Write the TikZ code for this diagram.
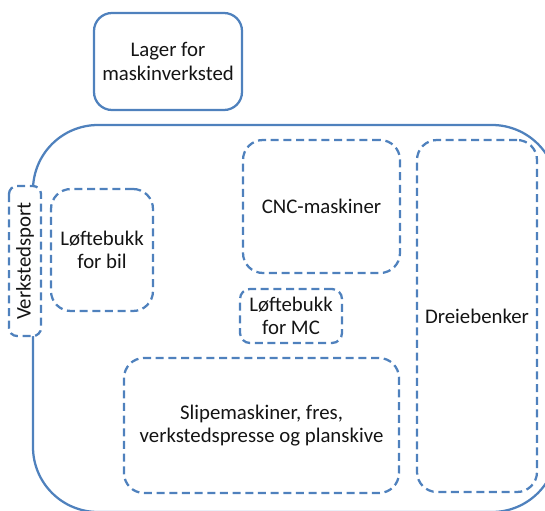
\documentclass[tikz,border=0pt]{standalone}
\usepackage{fontspec}
\setmainfont{Carlito}
\definecolor{shapeblue}{RGB}{79,129,189}
\definecolor{txt}{RGB}{20,20,20}
\begin{document}
\begin{tikzpicture}[x=0.75pt,y=-0.75pt,
  area/.style={draw=shapeblue, line width=1.7pt, rounded corners=15pt,
    align=center, inner sep=0pt, text=txt,
    font=\fontsize{15.6pt}{17.5pt}\selectfont},
  dashedarea/.style={area, dash pattern=on 6pt off 3.5pt},
  wall/.style={draw=shapeblue, line width=1.7pt, rounded corners=48.75pt}]
\useasboundingbox (0,0) rectangle (545,510);
\clip (0,0) rectangle (545,510);
% outer walls of the workshop
\draw[wall] (33,125) rectangle (557,512);
% storage
\node[area, rounded corners=13.5pt, minimum width=111pt, minimum height=72.75pt]
  (lager) at (168,61.5) {Lager for\\maskinverksted};
% door
\node[dashedarea, fill=white, rounded corners=6pt, rotate=90,
  minimum width=112.5pt, minimum height=24pt]
  (port) at (25,261) {Verkstedsport};
% areas
\node[dashedarea, minimum width=76.5pt, minimum height=91.5pt]
  (bil) at (102,250) {Løftebukk\\for bil};
\node[dashedarea, minimum width=117.75pt, minimum height=99.75pt]
  (cnc) at (321.5,206.5) {CNC-maskiner};
\node[dashedarea, rounded corners=7.5pt, minimum width=76.5pt, minimum height=40.5pt]
  (mc) at (291,316) {Løftebukk\\for MC};
\node[dashedarea, minimum width=206.25pt, minimum height=101.25pt]
  (slipe) at (261.5,425.5) {Slipemaskiner, fres,\\verkstedspresse og planskive};
\node[dashedarea, minimum width=90pt, minimum height=264pt]
  (dreie) at (477,316) {Dreiebenker};
\end{tikzpicture}
\end{document}
